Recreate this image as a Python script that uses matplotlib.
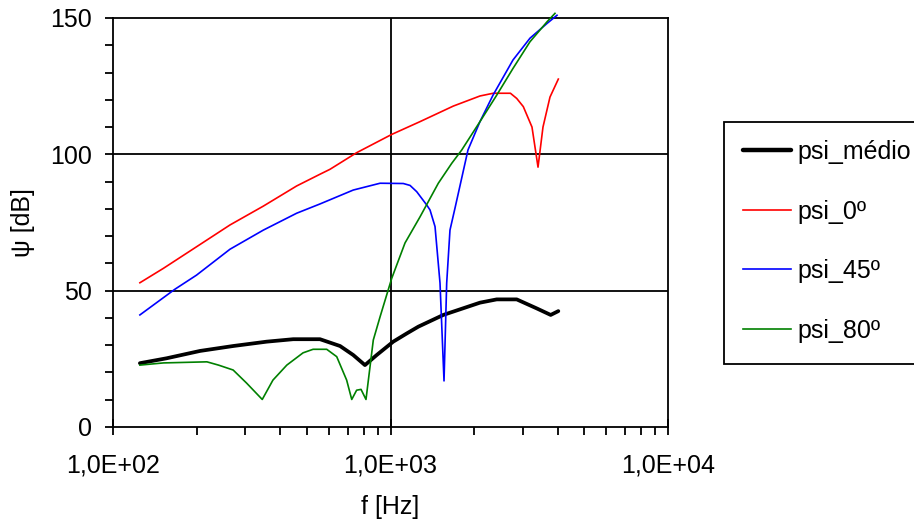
import matplotlib
matplotlib.use("Agg")
import matplotlib.pyplot as plt
from matplotlib.ticker import FixedLocator, NullFormatter, LogLocator
from matplotlib.lines import Line2D

plt.rcParams['font.family'] = ['Liberation Sans', 'DejaVu Sans']

# psi_médio
f_med = [125, 156, 206, 271, 358, 446, 557, 658, 734, 809, 892, 1023, 1144, 1260, 1550, 2101, 2414, 2850, 3364, 3778, 4025]
psi_med = [23.4, 25.2, 27.9, 29.7, 31.3, 32.2, 32.2, 29.7, 26.4, 22.7, 26.4, 31.3, 34.3, 36.8, 41.1, 45.6, 46.8, 46.8, 43.5, 41.1, 42.5]

# psi_0º
f_0 = [125, 152, 200, 264, 348, 459, 557, 605, 755, 1010, 1278, 1684, 2101, 2344, 2705, 2850, 3010, 3235, 3401, 3544, 3756, 4025]
psi_0 = [52.9, 58.2, 66.1, 74.1, 81.0, 88.4, 92.7, 94.5, 100.6, 107.3, 112.0, 117.7, 121.4, 122.4, 122.4, 120.5, 117.5, 110.0, 95.3, 110.0, 121.0, 127.6]

# psi_45º
f_45 = [125, 167, 200, 264, 348, 459, 557, 734, 917, 1112, 1176, 1243, 1351, 1388, 1447, 1508, 1559, 1594, 1638, 1708, 1902, 2101, 2341, 2763, 3182, 3664, 3981]
psi_45 = [41.1, 50.5, 55.7, 65.2, 72.2, 78.4, 81.8, 86.9, 89.4, 89.3, 88.6, 86.3, 81.4, 79.6, 73.5, 52.8, 16.9, 52.8, 72.2, 80.3, 101.6, 112.0, 121.7, 134.6, 142.6, 148.0, 151.0]

# psi_80º
f_80 = [125, 152, 218, 240, 271, 303, 345, 377, 423, 484, 526, 589, 640, 695, 725, 755, 783, 816, 867, 917, 1010, 1128, 1278, 1487, 1662, 1806, 2101, 2414, 2763, 3182, 3664, 3915]
psi_80 = [22.7, 23.5, 23.9, 22.7, 20.9, 16.1, 10.1, 17.2, 22.7, 27.2, 28.5, 28.5, 25.8, 17.2, 10.1, 13.5, 13.8, 10.1, 31.9, 40.4, 54.5, 67.5, 77.1, 89.4, 96.7, 101.6, 112.0, 121.7, 131.5, 141.3, 148.6, 151.7]

labels = ['psi_médio', 'psi_0º', 'psi_45º', 'psi_80º']
x_ticks = [100, 1000, 10000]
x_tick_labels = ['1,0E+02', '1,0E+03', '1,0E+04']
y_ticks = [0, 50, 100, 150]

FS = 18
LW = 1.3
W, H = 914, 525
fig = plt.figure(figsize=(W / 100, H / 100), dpi=100)
ax = fig.add_axes([113/W, 1-427/H, (668-113)/W, (427-18)/H])

ax.set_xscale('log')
ax.set_xlim(100, 10000)
ax.set_ylim(0, 150)

# grid lines
for yv in [50, 100]:
    ax.axhline(yv, color='black', lw=LW, zorder=1)
ax.axvline(1000, color='black', lw=LW, zorder=1)

ax.plot(f_med, psi_med, color='black', lw=2.7, label=labels[0], zorder=3, solid_capstyle='round')
ax.plot(f_0, psi_0, color='#ff0000', lw=1.2, label=labels[1], zorder=3, clip_on=False)
ax.plot(f_45, psi_45, color='#0000ff', lw=1.2, label=labels[2], zorder=3, clip_on=False)
ax.plot(f_80, psi_80, color='#008000', lw=1.2, label=labels[3], zorder=3, clip_on=False)

for s in ax.spines.values():
    s.set_color('black')
    s.set_linewidth(LW)

ax.xaxis.set_major_locator(FixedLocator(x_ticks))
ax.set_xticklabels(x_tick_labels)
ax.xaxis.set_minor_locator(LogLocator(base=10, subs=range(2, 10), numticks=20))
ax.xaxis.set_minor_formatter(NullFormatter())
ax.tick_params(axis='x', which='major', direction='inout', length=12, width=LW,
               labelsize=FS, pad=13, colors='black')
ax.tick_params(axis='x', which='minor', direction='out', length=6, width=LW)

ax.set_yticks(y_ticks)
ax.yaxis.set_minor_locator(FixedLocator(list(range(0, 151, 10))))
ax.tick_params(axis='y', which='major', direction='out', length=6, width=LW,
               labelsize=FS, pad=9, colors='black')
ax.tick_params(axis='y', which='minor', direction='out', length=6, width=LW)

ax.set_xlabel('f [Hz]', fontsize=FS, labelpad=13)
ax.set_ylabel('ψ [dB]', fontsize=FS)
ax.yaxis.set_label_coords((35 - 113) / 555, 0.5)

# legend box: open on the right (cut by the figure edge, as in the reference)
box_l, box_t, box_b, box_r = 724, 121.7, 364, 920
bx = [box_r / W, box_l / W, box_l / W, box_r / W]
by = [1 - box_t / H, 1 - box_t / H, 1 - box_b / H, 1 - box_b / H]
fig.lines.append(Line2D(bx, by, transform=fig.transFigure, color='black', lw=LW,
                        solid_joinstyle='miter'))

handles, labs = ax.get_legend_handles_labels()
leg = fig.legend(handles, labs, loc='upper left', bbox_to_anchor=(box_l / W, 1 - box_t / H),
                 borderaxespad=0, fontsize=FS, frameon=False,
                 handlelength=1.95, handletextpad=0.26,
                 labelspacing=1.42, borderpad=0.74)
leg.legend_handles[0].set_linewidth(3.2)

fig.savefig('out.png', dpi=100)
